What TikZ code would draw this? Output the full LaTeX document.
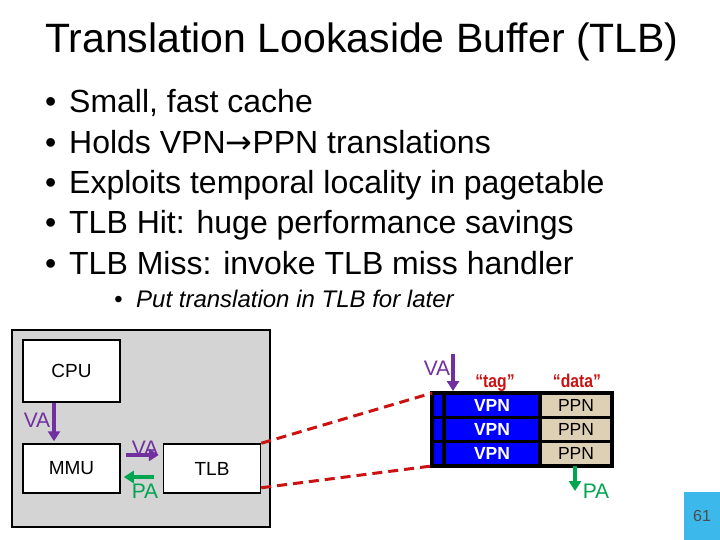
\documentclass[tikz,border=0pt]{standalone}
\usepackage{fontspec}
\setmainfont{Liberation Sans}
\newfontfamily\symfont{DejaVu Sans}
\newfontfamily\tagfont[FakeStretch=0.85]{Liberation Sans}
\usepackage{xcolor}
\usetikzlibrary{positioning,calc,arrows.meta}

\definecolor{vacol}{HTML}{7030A0}
\definecolor{pacol}{HTML}{00A550}
\definecolor{linkred}{HTML}{CC1111}
\definecolor{tlbblue}{HTML}{0000FF}
\definecolor{ppntan}{HTML}{DDD0B4}
\definecolor{boxgray}{HTML}{D4D4D4}
\definecolor{pagecyan}{HTML}{3DB8EA}

\begin{document}
\begin{tikzpicture}[x=1pt, y=-1pt,
        box/.style={rectangle, draw, line width=1.5pt, fill=white, minimum width=97pt, inner sep=0pt, font=\fontsize{19}{19}\selectfont},
        vbit/.style={rectangle, draw, line width=3.2pt, fill=tlbblue, minimum width=12pt, minimum height=24.3pt, inner sep=0pt, outer sep=0pt},
        vpncell/.style={vbit, minimum width=96pt, text=white, font=\fontsize{17.5}{17.5}\selectfont\bfseries},
        ppncell/.style={vpncell, fill=ppntan, minimum width=72pt, text=black, font=\fontsize{17.5}{17.5}\selectfont},
        tagtext/.style={anchor=base, inner sep=0pt, text=linkred, font=\tagfont\fontsize{18.5}{18.5}\selectfont\bfseries},
        va/.style={inner sep=0pt, text=vacol, font=\fontsize{21}{21}\selectfont},
        pa/.style={va, text=pacol},
        vaarr/.style={-{Triangle[length=10pt,width=12pt]}, line width=3.5pt, draw=vacol},
        paarr/.style={vaarr, draw=pacol},
        link/.style={draw=linkred, line width=3pt, dash pattern=on 10pt off 6pt},
        bullet/.style={anchor=base west, inner sep=0pt, font=\fontsize{32}{32}\selectfont}
    ]
        \useasboundingbox (0,0) rectangle (720,540);

        % Title and bullets
        \node[anchor=base west, inner sep=0pt, font=\fontsize{41}{41}\selectfont] (title) at (45,53) {Translation Lookaside Buffer (TLB)};
        \node[bullet] (b1) at (45,113) {\makebox[24pt][l]{\textbullet}Small, fast cache};
        \node[bullet] (b2) at (45,153.3) {\makebox[24pt][l]{\textbullet}Holds VPN{\symfont →}PPN translations};
        \node[bullet] (b3) at (45,193.6) {\makebox[24pt][l]{\textbullet}Exploits temporal locality in pagetable};
        \node[bullet] (b4) at (45,233.9) {\makebox[24pt][l]{\textbullet}TLB Hit: huge performance savings};
        \node[bullet] (b5) at (45,274.2) {\makebox[24pt][l]{\textbullet}TLB Miss: invoke TLB miss handler};
        \node[bullet, font=\fontsize{24}{24}\selectfont\itshape] (b6) at (114,307) {\makebox[22pt][l]{\textbullet}Put translation in TLB for later};

        % System box
        \node[rectangle, draw, line width=1.5pt, fill=boxgray, minimum width=258pt, minimum height=197pt] (sys) at (141,428.5) {};
        \node[box, minimum height=62pt] (cpu) at (71.5,371) {CPU};
        \node[box, minimum height=49pt] (mmu) at (71.5,468.5) {MMU};
        \node[box, minimum height=49pt, right=42pt of mmu] (tlb) {TLB};

        % Arrows
        \draw[vaarr, shorten >=2pt] ([xshift=-17.5pt]cpu.south) -- ([xshift=-17.5pt]mmu.north);
        \node[va] (va1) at (37,420) {VA};
        \draw[vaarr, shorten <=5pt, shorten >=4pt] ([yshift=13.5pt]mmu.east) -- ([yshift=13.5pt]tlb.west);
        \node[va] (va2) at (145,448) {VA};
        \draw[paarr, shorten <=9pt, shorten >=3pt] ([yshift=-8.5pt]tlb.west) -- ([yshift=-8.5pt]mmu.east);
        \node[pa] (pa1) at (145,491) {PA};

        % TLB entries
        \node[vbit] (v1) at (438,405.2) {};
        \node[vpncell, right=0pt of v1] (vpn1) {VPN};
        \node[ppncell, right=0pt of vpn1] (ppn1) {PPN};
        \node[vbit, below=0pt of v1] (v2) {};
        \node[vpncell, right=0pt of v2] (vpn2) {VPN};
        \node[ppncell, right=0pt of vpn2] (ppn2) {PPN};
        \node[vbit, below=0pt of v2] (v3) {};
        \node[vpncell, right=0pt of v3] (vpn3) {VPN};
        \node[ppncell, right=0pt of vpn3] (ppn3) {PPN};
        \node[tagtext] (tag) at (495,387) {“tag”};
        \node[tagtext] (data) at (577,387) {“data”};

        % Links to the TLB
        \draw[link] (tlb.north east) -- (v1.north west);
        \draw[link] ([yshift=6pt]tlb.south east) -- (v3.south west);

        % Lookup
        \coordinate (vatop) at (453,354);
        \draw[vaarr, shorten >=2pt] (vatop) -- (vatop |- vpn1.north);
        \node[va] (va3) at (437,368) {VA};
        \coordinate (paend) at (575,491);
        \draw[paarr] (ppn3.south -| paend) -- (paend);
        \node[pa] (pa2) at (596,491) {PA};

        % Page number
        \node[fill=pagecyan, minimum width=36pt, minimum height=48pt, inner sep=0pt, text=black!70, font=\fontsize{16}{16}\selectfont] (pgnum) at (702,516) {61};
    \end{tikzpicture}
\end{document}
